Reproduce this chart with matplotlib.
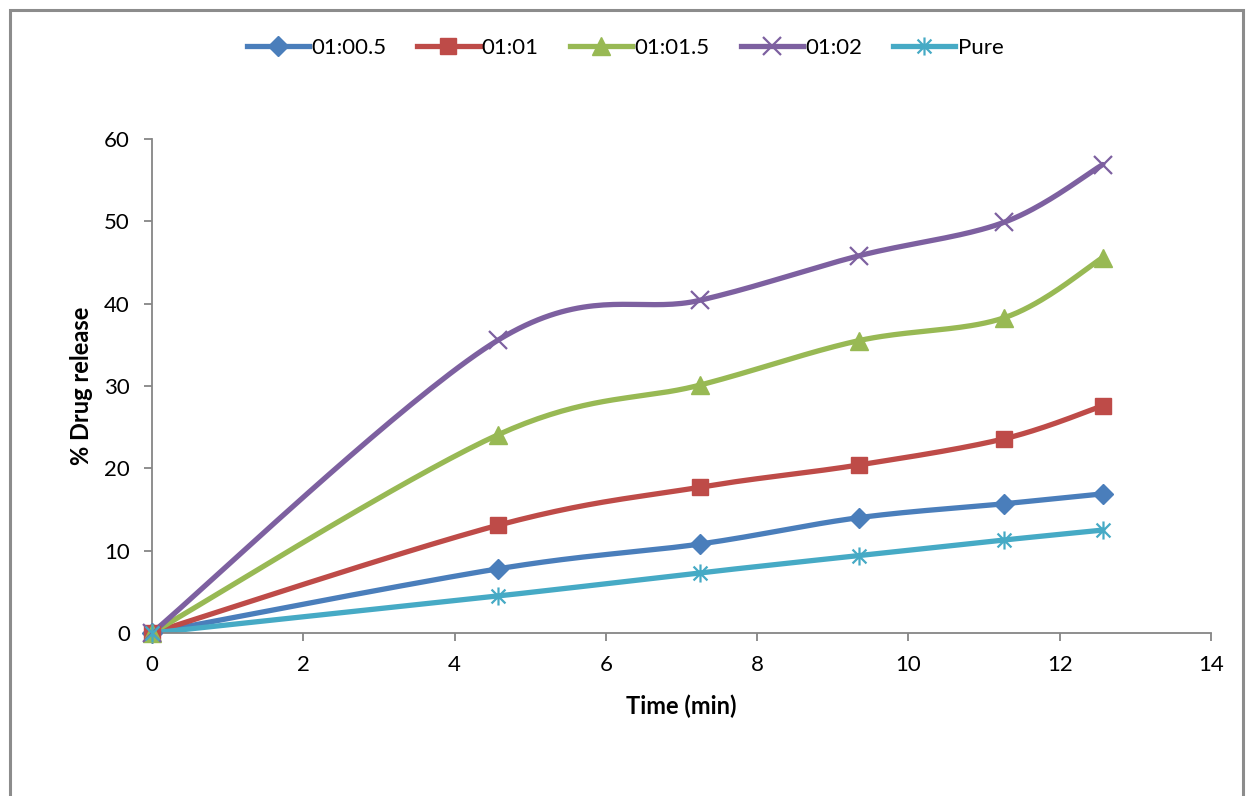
import matplotlib.pyplot as plt
import numpy as np
from matplotlib.path import Path
from matplotlib.patches import Rectangle

# dissolution data
time = [0, 4.58, 7.24, 9.34, 11.27, 12.57]
r_0_5 = [0, 7.8, 10.8, 14.0, 15.7, 16.9]
r_1 = [0, 13.1, 17.7, 20.4, 23.6, 27.6]
r_1_5 = [0, 24.1, 30.1, 35.5, 38.3, 45.6]
r_2 = [0, 35.6, 40.4, 45.8, 49.9, 56.9]
pure = [0, 4.5, 7.3, 9.4, 11.3, 12.5]
labels = ["01:00.5", "01:01", "01:01.5", "01:02", "Pure"]


def smooth(x, y, n=40):
    # Catmull-Rom style bezier through every point (like a spreadsheet "smoothed line")
    x, y = np.asarray(x, float), np.asarray(y, float)
    p = np.column_stack([x, y])
    out = []
    for i in range(len(p) - 1):
        p0 = p[i - 1] if i > 0 else p[i]
        p1, p2 = p[i], p[i + 1]
        p3 = p[i + 2] if i + 2 < len(p) else p[i + 1]
        c1 = p1 + (p2 - p0) / 6
        c2 = p2 - (p3 - p1) / 6
        t = np.linspace(0, 1, n)[:, None]
        seg = ((1 - t) ** 3) * p1 + 3 * ((1 - t) ** 2) * t * c1 + 3 * (1 - t) * t ** 2 * c2 + t ** 3 * p2
        out.append(seg if i == 0 else seg[1:])
    s = np.vstack(out)
    return s[:, 0], s[:, 1]


star = Path([(-1, -1), (1, 1), (-1, 1), (1, -1), (0, -1.3), (0, 1.3)],
            [Path.MOVETO, Path.LINETO, Path.MOVETO, Path.LINETO, Path.MOVETO, Path.LINETO])

series = [r_0_5, r_1, r_1_5, r_2, pure]
colors = ["#4A7EBB", "#BE4B48", "#98B954", "#7D60A0", "#46AAC5"]
markers = ["D", "s", "^", "x", star]
msizes = [10, 11, 13, 13, 13]

plt.rcParams["font.family"] = ["Lato", "DejaVu Sans"]

fig = plt.figure(figsize=(12.5, 7.96), dpi=100)
fig.patches.append(Rectangle((10 / 1250, -0.05), 1233 / 1250, 1 - 10 / 796 + 0.05,
                             transform=fig.transFigure, fill=False,
                             edgecolor="#8c8c8c", linewidth=2.2))
ax = fig.add_axes([0.1216, 0.2048, 0.8472, 0.6206])

handles = []
for y, c, m, ms, lab in zip(series, colors, markers, msizes, labels):
    sx, sy = smooth(time, y)
    ax.plot(sx, sy, color=c, linewidth=3.8, solid_capstyle="round", zorder=2)
    mew = 1.6 if m in ("x",) or m is star else 1
    ax.plot(time, y, linestyle="none", marker=m, markersize=ms, color=c,
            markeredgecolor=c, markeredgewidth=mew, zorder=3, clip_on=False)
    h, = ax.plot([], [], color=c, linewidth=3.8, marker=m, markersize=ms,
                 markeredgewidth=mew, label=lab)
    handles.append(h)

ax.set_xlim(0, 14)
ax.set_ylim(0, 60)
ax.set_xticks(range(0, 15, 2))
ax.set_yticks(range(0, 61, 10))
for s in ["top", "right"]:
    ax.spines[s].set_visible(False)
for s in ["left", "bottom"]:
    ax.spines[s].set_color("#868686")
    ax.spines[s].set_linewidth(1.3)
ax.tick_params(direction="out", length=6, width=1.3, color="#868686",
               labelsize=16, pad=10)
ax.set_xlabel("Time (min)", fontsize=17, fontweight="bold", labelpad=14)
ax.set_ylabel("% Drug release", fontsize=17, fontweight="bold", labelpad=8)

fig.legend(handles=handles, loc="center", bbox_to_anchor=(0.5, 0.94), ncol=5,
           frameon=False, fontsize=16, handlelength=2.8, handletextpad=0.1,
           columnspacing=1.4, numpoints=1)

fig.savefig("out.png", dpi=100)
